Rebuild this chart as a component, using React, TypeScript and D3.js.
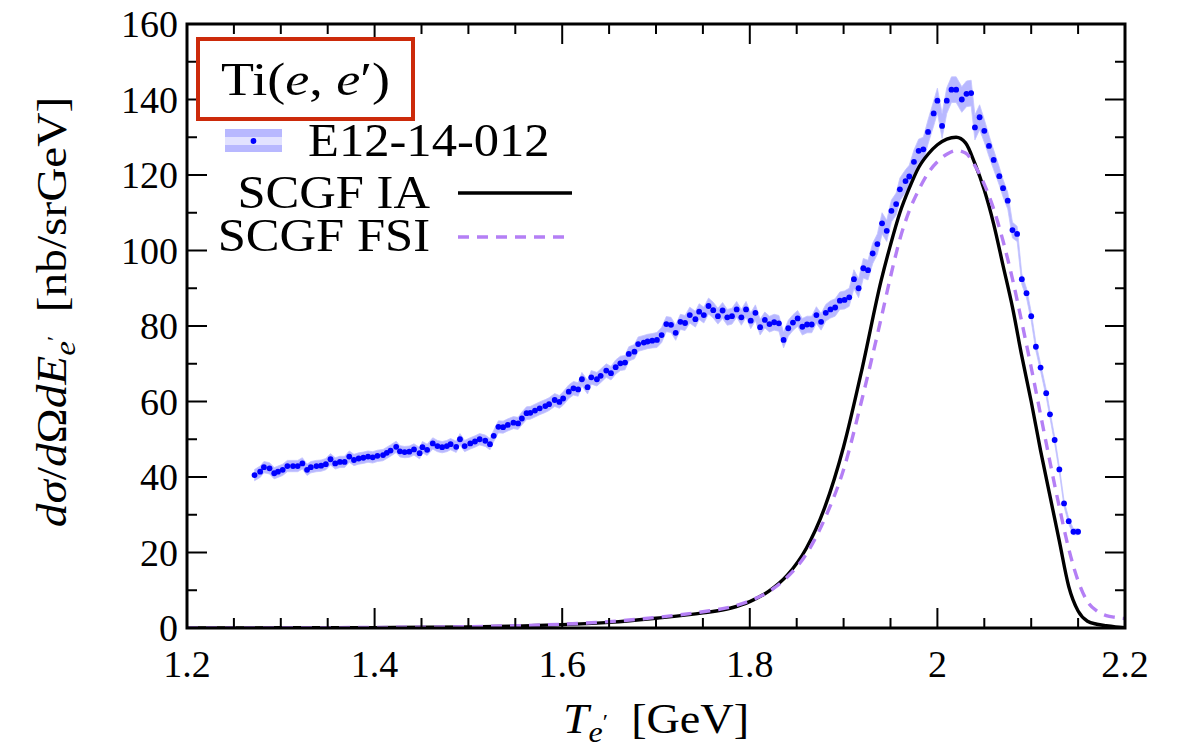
import React from 'react';
import * as d3 from 'd3';

// ---------- data ----------
// experimental points: [T_e' (GeV), dσ/dΩdE (nb/sr GeV), uncertainty]
const expData: [number, number, number][] = [
  [1.272, 40.5, 1.5], [1.278, 41.4, 1.5], [1.282, 42.6, 1.5], [1.288, 42.3, 1.5], [1.293, 41.0, 1.5],
  [1.297, 41.4, 1.5], [1.302, 41.9, 1.5], [1.307, 42.9, 1.5], [1.313, 42.9, 1.5], [1.318, 42.9, 1.5],
  [1.323, 43.6, 1.5], [1.328, 41.9, 1.5], [1.332, 42.6, 1.5], [1.338, 42.9, 1.5], [1.343, 43.0, 1.5],
  [1.348, 43.4, 1.5], [1.353, 44.7, 1.5], [1.358, 43.6, 1.5], [1.363, 44.0, 1.5], [1.368, 44.0, 1.5],
  [1.373, 45.4, 1.5], [1.378, 44.5, 1.5], [1.383, 44.9, 1.5], [1.388, 45.1, 1.5], [1.393, 45.4, 1.5],
  [1.398, 45.2, 1.5], [1.403, 45.6, 1.5], [1.409, 45.8, 1.5], [1.413, 46.4, 1.5], [1.417, 47.0, 1.5],
  [1.423, 48.0, 1.5], [1.427, 46.8, 1.5], [1.432, 46.6, 1.5], [1.437, 46.7, 1.5], [1.442, 47.3, 1.5],
  [1.448, 46.3, 1.5], [1.451, 47.9, 1.5], [1.456, 47.2, 1.5], [1.462, 48.9, 1.5], [1.467, 48.2, 1.5],
  [1.472, 47.9, 1.5], [1.477, 48.2, 1.5], [1.481, 48.7, 1.5], [1.487, 48.0, 1.5], [1.491, 50.0, 1.5],
  [1.496, 48.2, 1.5], [1.502, 48.9, 1.5], [1.507, 49.4, 1.5], [1.512, 50.0, 1.5], [1.518, 49.6, 1.5],
  [1.523, 48.7, 1.5], [1.527, 50.9, 1.5], [1.532, 53.3, 1.6], [1.537, 53.2, 1.6], [1.542, 53.8, 1.6],
  [1.548, 54.4, 1.6], [1.553, 54.2, 1.6],
  [1.557, 55.5, 1.7], [1.562, 56.9, 1.7], [1.566, 57.0, 1.7], [1.571, 57.6, 1.7], [1.576, 58.2, 1.7],
  [1.582, 58.8, 1.7], [1.586, 59.3, 1.7], [1.592, 60.4, 1.7], [1.597, 59.9, 1.7], [1.601, 60.8, 1.8],
  [1.607, 62.6, 1.8], [1.612, 63.5, 1.8], [1.617, 63.2, 1.8], [1.621, 65.9, 1.8], [1.627, 63.8, 1.8],
  [1.631, 66.4, 1.8], [1.637, 65.9, 1.8], [1.641, 66.8, 1.8], [1.647, 68.2, 1.8], [1.652, 67.5, 1.8],
  [1.657, 69.1, 1.9], [1.662, 70.1, 1.9], [1.667, 70.3, 1.9], [1.671, 72.6, 1.9], [1.677, 73.2, 1.9],
  [1.681, 75.2, 1.9], [1.687, 75.6, 1.9], [1.691, 75.9, 1.9], [1.696, 76.1, 1.9], [1.701, 76.3, 2.0],
  [1.706, 77.6, 2.0], [1.711, 80.5, 2.0], [1.716, 80.3, 2.0], [1.721, 78.2, 2.0], [1.726, 81.1, 2.0],
  [1.731, 80.8, 2.0], [1.736, 82.9, 2.1], [1.742, 81.8, 2.1], [1.746, 83.8, 2.1], [1.751, 82.9, 2.1],
  [1.756, 85.3, 2.1], [1.761, 84.2, 2.1], [1.766, 82.6, 2.1], [1.771, 84.1, 2.1], [1.776, 82.3, 2.1],
  [1.781, 82.6, 2.1], [1.786, 84.4, 2.1], [1.791, 82.3, 2.1], [1.796, 84.4, 2.1], [1.801, 81.4, 2.1],
  [1.806, 83.5, 2.1], [1.811, 79.7, 2.1], [1.816, 81.6, 2.1], [1.821, 80.5, 2.1], [1.826, 81.0, 2.1],
  [1.831, 80.7, 2.1], [1.836, 76.3, 2.1], [1.841, 79.4, 2.1], [1.846, 80.9, 2.1], [1.851, 82.0, 2.1],
  [1.856, 79.8, 2.2], [1.861, 80.4, 2.2], [1.866, 80.4, 2.2], [1.871, 82.9, 2.2], [1.876, 81.1, 2.2],
  [1.881, 83.5, 2.2], [1.886, 84.4, 2.3], [1.891, 84.9, 2.3], [1.896, 86.7, 2.3], [1.901, 86.9, 2.4],
  [1.906, 87.6, 2.4], [1.911, 92.4, 2.5], [1.916, 90.0, 2.5], [1.921, 95.3, 2.6], [1.926, 94.8, 2.6],
  [1.931, 99.2, 2.7], [1.936, 101.7, 2.7], [1.941, 107.2, 2.8], [1.946, 105.2, 2.8], [1.951, 110.5, 2.9],
  [1.956, 112.3, 2.9], [1.960, 116.2, 3.0], [1.966, 118.4, 3.0], [1.970, 119.6, 3.0], [1.975, 123.5, 3.1],
  [1.980, 126.4, 3.1], [1.985, 126.8, 3.2], [1.990, 131.4, 3.2], [1.996, 136.3, 3.3], [2.000, 139.7, 3.3],
  [2.005, 133.0, 3.3], [2.010, 139.7, 3.4], [2.015, 142.6, 3.4], [2.020, 142.6, 3.4],
  [2.026, 140.0, 3.4], [2.031, 141.5, 3.4], [2.036, 141.7, 3.4], [2.040, 132.6, 3.3], [2.045, 135.3, 3.3],
  [2.050, 131.7, 3.0], [2.055, 127.7, 2.8], [2.060, 124.0, 2.6], [2.066, 119.7, 2.4], [2.070, 116.5, 2.3],
  [2.075, 113.2, 2.2], [2.080, 105.4, 2.1], [2.085, 104.4, 2.0], [2.090, 92.4, 1.4], [2.095, 88.7, 1.3],
  [2.100, 82.6, 1.2], [2.105, 74.5, 1.1], [2.110, 69.0, 1.0], [2.116, 62.2, 1.0], [2.120, 56.6, 0.9],
  [2.125, 49.8, 0.9], [2.130, 42.0, 0.8], [2.135, 33.0, 0.8], [2.140, 28.3, 0.8], [2.145, 25.5, 0.8],
  [2.150, 25.5, 0.8],
];

// SCGF impulse approximation curve
const iaCurve: [number, number][] = [
  [1.20, 0.0], [1.30, 0.05], [1.40, 0.1], [1.50, 0.3], [1.55, 0.5], [1.60, 0.9], [1.65, 1.5],
  [1.70, 2.6], [1.75, 4.0], [1.78, 5.3], [1.80, 7.0], [1.82, 9.7], [1.84, 14.0], [1.86, 21.0],
  [1.88, 32.0], [1.90, 48.0], [1.92, 69.0], [1.94, 92.0], [1.95, 101.5], [1.96, 110.0],
  [1.97, 116.5], [1.98, 122.0], [1.99, 125.5], [2.00, 128.0], [2.01, 129.5], [2.02, 130.0],
  [2.03, 128.5], [2.04, 123.0], [2.05, 116.0], [2.06, 107.0], [2.07, 96.0], [2.08, 85.0],
  [2.09, 72.0], [2.10, 60.0], [2.11, 47.0], [2.12, 35.0], [2.13, 23.0], [2.14, 11.0],
  [2.15, 4.5], [2.16, 1.8], [2.17, 1.0], [2.18, 0.6], [2.19, 0.3], [2.20, 0.1],
];

// SCGF with final-state interactions
const fsiCurve: [number, number][] = [
  [1.20, 0.0], [1.30, 0.05], [1.40, 0.15], [1.50, 0.35], [1.55, 0.6], [1.60, 1.0], [1.65, 1.7],
  [1.70, 2.8], [1.75, 4.3], [1.78, 5.6], [1.80, 7.2], [1.82, 9.6], [1.84, 13.5], [1.86, 19.5],
  [1.88, 29.0], [1.90, 42.0], [1.92, 61.0], [1.94, 82.0], [1.95, 93.0], [1.96, 103.0],
  [1.97, 110.5], [1.98, 116.0], [1.99, 120.5], [2.00, 123.5], [2.01, 125.5], [2.02, 126.5],
  [2.03, 125.8], [2.04, 122.5], [2.05, 117.5], [2.06, 111.0], [2.07, 102.5], [2.08, 92.5],
  [2.09, 81.0], [2.10, 69.0], [2.11, 56.5], [2.12, 44.0], [2.13, 32.0], [2.14, 21.0],
  [2.15, 12.5], [2.16, 7.0], [2.17, 4.5], [2.18, 3.3], [2.19, 2.8], [2.20, 2.5],
];

const xTickLabels = ['1.2', '1.4', '1.6', '1.8', '2', '2.2'];
const yTickLabels = ['0', '20', '40', '60', '80', '100', '120', '140', '160'];
const legendLabels = ['E12-14-012', 'SCGF IA', 'SCGF FSI'];

// ---------- layout ----------
const W = 1179;
const H = 753;
const L = 187, R = 1125, T = 24, B = 628;
const FONT = "'Liberation Serif', 'DejaVu Serif', serif";
const BAND = '#b8b8ff';
const DOT = '#0000ff';
const PURPLE = '#b47ff5';
const SX = 1.1; // horizontal stretch to mimic the wider Computer Modern glyphs

export default function App() {
  const x = d3.scaleLinear().domain([1.2, 2.2]).range([L, R]);
  const y = d3.scaleLinear().domain([0, 160]).range([B, T]);

  const xMajor = xTickLabels.map(Number);
  const yMajor = yTickLabels.map(Number);
  const xMinor = x.ticks(20).filter((v) => !xMajor.some((m) => Math.abs(m - v) < 1e-9));
  const yMinor = y.ticks(16).filter((v) => !yMajor.some((m) => Math.abs(m - v) < 1e-9));

  const band = d3
    .area<[number, number, number]>()
    .x((d) => x(d[0]))
    .y0((d) => y(d[1] - d[2]))
    .y1((d) => y(d[1] + d[2]));

  const line = d3
    .line<[number, number]>()
    .x((d) => x(d[0]))
    .y((d) => y(d[1]))
    .curve(d3.curveMonotoneX);

  const majorLen = 20;
  const minorLen = 10;

  return (
    <svg
      width={W}
      height={H}
      style={{ position: 'absolute', left: 0, top: 0, background: '#fff' }}
      fontFamily={FONT}
    >
      <defs>
        <clipPath id="plot">
          <rect x={L} y={T} width={R - L} height={B - T} />
        </clipPath>
      </defs>

      <g clipPath="url(#plot)">
        <path d={band(expData) || ''} fill={BAND} stroke="#c4c4ff" strokeWidth={0.8} />
        {expData.map((d, i) => (
          <circle key={i} cx={x(d[0])} cy={y(d[1])} r={2.9} fill={DOT} />
        ))}
        <path d={line(iaCurve) || ''} fill="none" stroke="#000" strokeWidth={3.4} />
        <path
          d={line(fsiCurve) || ''}
          fill="none"
          stroke={PURPLE}
          strokeWidth={3.4}
          strokeDasharray="11 8"
        />
      </g>

      {/* ticks */}
      <g stroke="#000" strokeWidth={2}>
        {xMajor.map((v) => (
          <g key={'xM' + v}>
            <line x1={x(v)} x2={x(v)} y1={B} y2={B - majorLen} />
            <line x1={x(v)} x2={x(v)} y1={T} y2={T + majorLen} />
          </g>
        ))}
        {xMinor.map((v) => (
          <g key={'xm' + v}>
            <line x1={x(v)} x2={x(v)} y1={B} y2={B - minorLen} />
            <line x1={x(v)} x2={x(v)} y1={T} y2={T + minorLen} />
          </g>
        ))}
        {yMajor.map((v) => (
          <g key={'yM' + v}>
            <line x1={L} x2={L + majorLen} y1={y(v)} y2={y(v)} />
            <line x1={R} x2={R - majorLen} y1={y(v)} y2={y(v)} />
          </g>
        ))}
        {yMinor.map((v) => (
          <g key={'ym' + v}>
            <line x1={L} x2={L + minorLen} y1={y(v)} y2={y(v)} />
            <line x1={R} x2={R - minorLen} y1={y(v)} y2={y(v)} />
          </g>
        ))}
      </g>

      {/* frame */}
      <rect x={L} y={T} width={R - L} height={B - T} fill="none" stroke="#000" strokeWidth={3} />

      {/* tick labels */}
      <g fontSize={38} fill="#000">
        {xTickLabels.map((t, i) => (
          <text key={'xl' + t} x={x(xMajor[i])} y={677} textAnchor="middle">
            {t}
          </text>
        ))}
        {yTickLabels.map((t, i) => (
          <text key={'yl' + t} x={178} y={y(yMajor[i])} dy="0.35em" textAnchor="end">
            {t}
          </text>
        ))}
      </g>

      {/* x axis label */}
      <text transform={`translate(656,733) scale(${SX},1)`} fontSize={42} textAnchor="middle">
        <tspan fontStyle="italic">T</tspan>
        <tspan fontStyle="italic" fontSize={29} dy={9}>e</tspan>
        <tspan fontSize={22} dy={-13}>′</tspan>
        <tspan dy={4}>{'\u2002[GeV]'}</tspan>
      </text>

      {/* y axis label */}
      <text transform={`translate(66,312) rotate(-90) scale(${SX},1)`} fontSize={43} textAnchor="middle">
        <tspan fontStyle="italic">dσ</tspan>
        <tspan>/</tspan>
        <tspan fontStyle="italic">d</tspan>
        <tspan>Ω</tspan>
        <tspan fontStyle="italic">dE</tspan>
        <tspan fontStyle="italic" fontSize={30} dy={9}>e</tspan>
        <tspan fontSize={22} dy={-13}>′</tspan>
        <tspan dy={4}>{'\u2002[nb/srGeV]'}</tspan>
      </text>

      {/* title box */}
      <rect x={198} y={39} width={215} height={80} fill="#fff" stroke="#cc2a0a" strokeWidth={4} />
      <text transform={`translate(305.5,95) scale(1.15,1)`} fontSize={47} textAnchor="middle">
        <tspan>Ti(</tspan>
        <tspan fontStyle="italic">e</tspan>
        <tspan>,  </tspan>
        <tspan fontStyle="italic">e</tspan>
        <tspan>′)</tspan>
      </text>

      {/* legend */}
      <rect x={225} y={129} width={57} height={23} fill={BAND} />
      <rect x={225} y={137} width={57} height={8} fill="#e2e2ff" />
      <circle cx={253.5} cy={141} r={2.9} fill={DOT} />
      <text transform={`translate(308,156) scale(${SX},1)`} fontSize={46}>
        {legendLabels[0]}
      </text>

      <text transform={`translate(430,208) scale(${SX},1)`} fontSize={46} textAnchor="end">
        {legendLabels[1]}
      </text>
      <line x1={458} x2={572} y1={193} y2={193} stroke="#000" strokeWidth={3.4} />

      <text transform={`translate(430,251) scale(${SX},1)`} fontSize={46} textAnchor="end">
        {legendLabels[2]}
      </text>
      <line
        x1={458}
        x2={572}
        y1={237}
        y2={237}
        stroke={PURPLE}
        strokeWidth={3.4}
        strokeDasharray="11 8"
      />
    </svg>
  );
}
